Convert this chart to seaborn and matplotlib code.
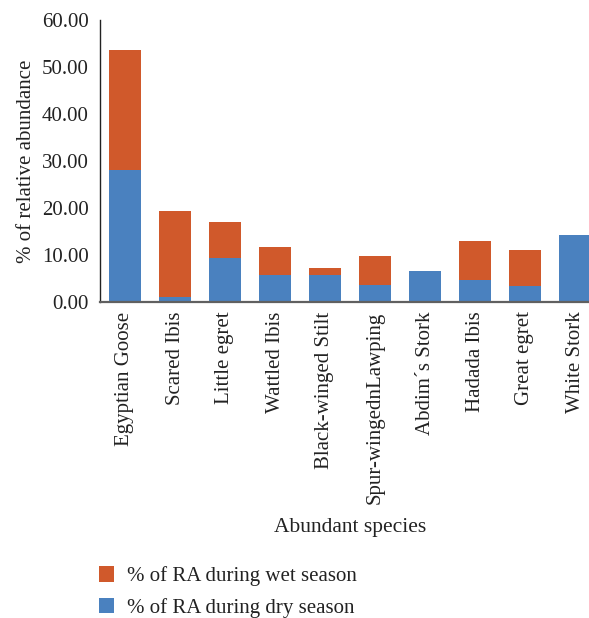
import numpy as np
import pandas as pd
import matplotlib
matplotlib.use("Agg")
import matplotlib.pyplot as plt
from matplotlib.patches import Patch
from matplotlib.ticker import FormatStrFormatter
import seaborn as sns

species = ["Egyptian Goose", "Scared Ibis", "Little egret", "Wattled Ibis",
           "Black-winged Stilt", "Spur-wingednLawping", "Abdim\u00b4s Stork",
           "Hadada Ibis", "Great egret", "White Stork"]
dry_season = [28.1, 1.0, 9.4, 5.7, 5.7, 3.6, 6.5, 4.7, 3.4, 14.2]
wet_season = [25.5, 18.3, 7.6, 5.95, 1.5, 6.15, 0.0, 8.25, 7.6, 0.0]

wet_label = "% of RA during wet season"
dry_label = "% of RA during dry season"
wet_color = "#D0592B"
dry_color = "#4A81BF"

df = pd.DataFrame({"species": species, "dry": dry_season, "wet": wet_season})
df["total"] = df["dry"] + df["wet"]

sns.set_theme(style="white")
plt.rcParams["font.family"] = ["Liberation Serif", "DejaVu Serif"]

fig = plt.figure(figsize=(5.89, 6.18), dpi=100)
ax = fig.add_axes([100 / 589, 1 - 301.7 / 618, 500 / 589, 281.7 / 618])

# stacked bars: the full height in orange, the dry share over it in blue
sns.barplot(data=df, x="species", y="total", color=wet_color, width=0.64,
            saturation=1, linewidth=0, ax=ax)
sns.barplot(data=df, x="species", y="dry", color=dry_color, width=0.64,
            saturation=1, linewidth=0, ax=ax)

ax.set_ylim(0, 60)
ax.set_xlim(-0.5, 9.5)
ax.set_yticks(np.arange(0, 61, 10))
ax.yaxis.set_major_formatter(FormatStrFormatter("%.2f"))
ax.tick_params(axis="y", length=0, pad=8, labelsize=15, colors="#222222")
ax.tick_params(axis="x", length=0, pad=7, labelsize=15, colors="#222222",
               labelrotation=90)

for s in ["top", "right"]:
    ax.spines[s].set_visible(False)
ax.spines["left"].set_color("#222222")
ax.spines["left"].set_linewidth(1.0)
ax.spines["bottom"].set_color("#606060")
ax.spines["bottom"].set_linewidth(1.6)

ax.set_ylabel("% of relative abundance", fontsize=15, color="#222222",
              labelpad=4)
ax.set_xlabel("Abundant species", fontsize=15.5, color="#222222", labelpad=10)

handles = [Patch(facecolor=wet_color, edgecolor="none"),
           Patch(facecolor=dry_color, edgecolor="none")]
fig.legend(handles, [wet_label, dry_label], loc="center left",
           bbox_to_anchor=(80 / 589, 1 - 592 / 618), frameon=False,
           fontsize=15, handlelength=0.75, handleheight=0.75,
           handletextpad=0.6, labelspacing=0.55, labelcolor="#222222")

fig.savefig("out.png", dpi=100)
